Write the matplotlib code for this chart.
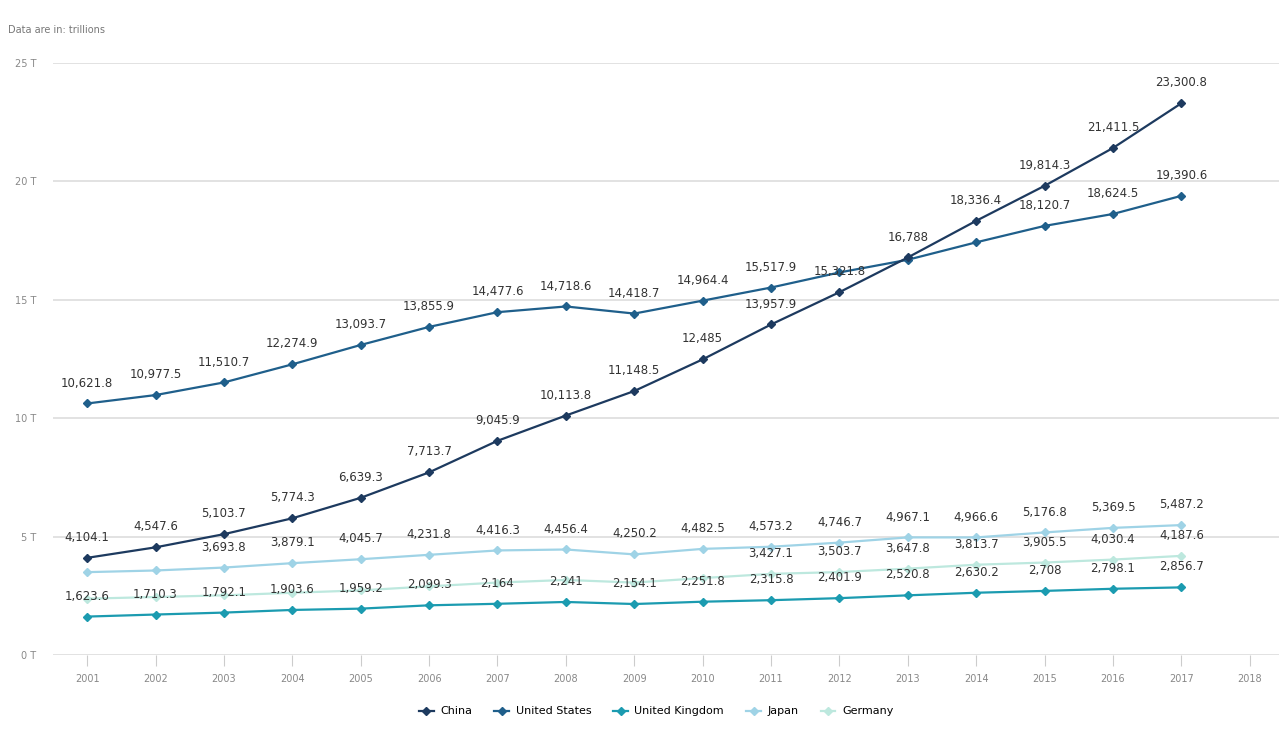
import matplotlib
matplotlib.use("Agg")
import matplotlib.pyplot as plt
import numpy as np

# data (billions)
years = list(range(2001, 2018))
china = [4104.1, 4547.6, 5103.7, 5774.3, 6639.3, 7713.7, 9045.9, 10113.8, 11148.5,
         12485, 13957.9, 15321.8, 16788, 18336.4, 19814.3, 21411.5, 23300.8]
usa = [10621.8, 10977.5, 11510.7, 12274.9, 13093.7, 13855.9, 14477.6, 14718.6, 14418.7,
       14964.4, 15517.9, 16155.3, 16691.5, 17427.6, 18120.7, 18624.5, 19390.6]
uk = [1623.6, 1710.3, 1792.1, 1903.6, 1959.2, 2099.3, 2164, 2241, 2154.1,
      2251.8, 2315.8, 2401.9, 2520.8, 2630.2, 2708, 2798.1, 2856.7]
japan = [3500, 3570, 3693.8, 3879.1, 4045.7, 4231.8, 4416.3, 4456.4, 4250.2,
         4482.5, 4573.2, 4746.7, 4967.1, 4966.6, 5176.8, 5369.5, 5487.2]
germany = [2380, 2450, 2520, 2630, 2730, 2900, 3060, 3170, 3060,
           3250, 3427.1, 3503.7, 3647.8, 3813.7, 3905.5, 4030.4, 4187.6]

# which labels are shown (the chart hides overlapping ones)
hide = {
    "United States": [2012, 2013, 2014],
    "Japan": [2001, 2002],
    "Germany": list(range(2001, 2011)),
}

series = [
    ("China", china, "#1d3a5f"),
    ("United States", usa, "#1f5f8b"),
    ("United Kingdom", uk, "#1b9bb0"),
    ("Japan", japan, "#9fd3e6"),
    ("Germany", germany, "#bde8de"),
]

plt.rcParams['font.family'] = ['Liberation Sans Narrow', 'DejaVu Sans']

fig = plt.figure(figsize=(12.79, 7.35), dpi=100)
ax = fig.add_axes([0.0414, 0.1088, 0.9625, 0.8055])

for name, vals, col in reversed(series):
    t = np.array(vals) / 1000.0
    ax.plot(years, t, color=col, lw=1.6, marker="D", markersize=3.8, label=name, zorder=3)
    for yr, v, raw in zip(years, t, vals):
        if yr in hide.get(name, []):
            continue
        txt = f"{raw:,.1f}" if raw != int(raw) else f"{int(raw):,}"
        ax.annotate(txt, (yr, v), xytext=(0, 10), textcoords="offset points",
                    ha="center", va="bottom", fontsize=8.5, color="#333333", zorder=4)

ax.set_xlim(2000.5, 2018.5)
ax.set_ylim(0, 25)
ax.set_yticks([0, 5, 10, 15, 20, 25])
ax.set_yticklabels(["0 T", "5 T", "10 T", "15 T", "20 T", "25 T"])
ax.set_xticks(range(2001, 2019))
ax.set_xticklabels([str(y) for y in range(2001, 2019)])
ax.grid(axis="y", color="#dddddd", lw=1.2)
ax.set_axisbelow(True)
for s in ax.spines.values():
    s.set_visible(False)
ax.tick_params(axis="y", length=0, labelsize=7, colors="#888888", pad=12)
ax.tick_params(axis="x", length=8, width=0.8, color="#cccccc", labelsize=7,
               colors="#888888", pad=6)

fig.text(0.006, 0.955, "Data are in: trillions", fontsize=7, color="#777777")

handles, labels = ax.get_legend_handles_labels()
ax.legend(handles[::-1], labels[::-1], loc="upper center", bbox_to_anchor=(0.49, -0.07),
          ncol=5, frameon=False, fontsize=8, handlelength=1.3, columnspacing=2.0,
          handletextpad=0.6)

fig.savefig("out.png", dpi=100)
